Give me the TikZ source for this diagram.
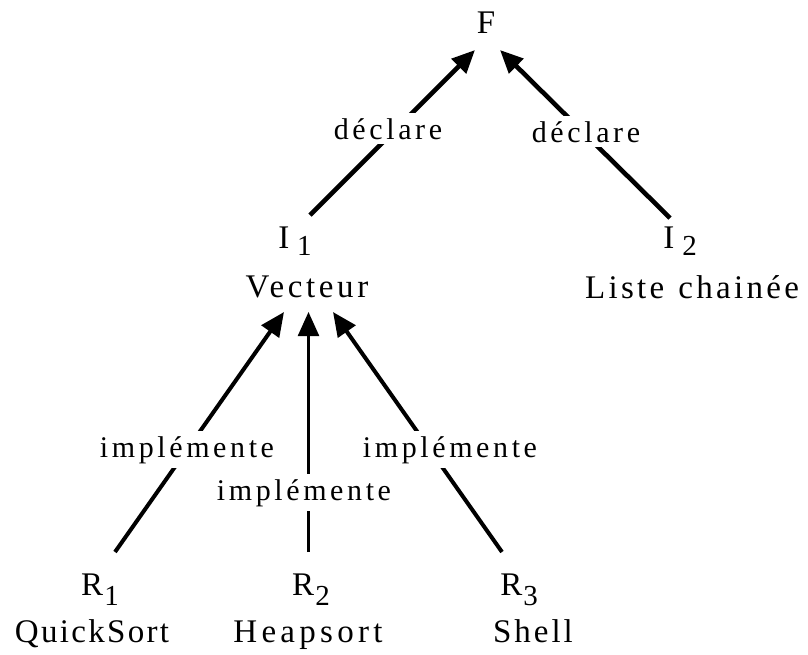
\documentclass[tikz,border=0pt]{standalone}
\usepackage{fontspec}
\setmainfont{Liberation Serif}
\usetikzlibrary{arrows.meta}

% text sizes
\newcommand\bigtext{\fontsize{33}{36}\selectfont}
\newcommand\lbltext{\fontsize{30}{33}\selectfont\addfontfeature{LetterSpace=12}}
% letter with a lowered index: #1 letter, #2 index, #3 drop, #4 gap
\newcommand\withsub[4]{#1\hspace*{#4}\raisebox{#3}{\fontsize{29}{30}\selectfont #2}}

\begin{document}
\begin{tikzpicture}[x=1pt,y=-1pt,
  txt/.style={anchor=base,inner sep=0pt,font=\bigtext},
  lbl/.style={anchor=base,fill=white,inner xsep=2pt,inner ysep=5pt,font=\lbltext},
  arrtop/.style={-{Triangle[length=23pt,width=20pt]},line width=4.6pt},
  arrside/.style={-{Triangle[length=24pt,width=21pt]},line width=4pt},
  arrmid/.style={-{Triangle[length=24pt,width=21pt]},line width=2.4pt}]
\useasboundingbox (0,0) rectangle (808,654);

% nodes
\node[txt] (f) at (486,33) {F};
\node[txt] (i1) at (295,248) {\withsub{I}{1}{-7pt}{8pt}};
\node[txt,font=\bigtext\addfontfeature{LetterSpace=11}] (vec) at (307,297) {Vecteur};
\node[txt] (i2) at (680,248) {\withsub{I}{2}{-7pt}{8pt}};
\node[txt,font=\bigtext\addfontfeature{LetterSpace=10}] (lc) at (692,298) {Liste\hspace{14pt}chainée};
\node[txt] (r1) at (100,595) {\withsub{R}{1}{-10pt}{1pt}};
\node[txt,font=\bigtext\addfontfeature{LetterSpace=7}] (qs) at (92,642) {QuickSort};
\node[txt] (r2) at (311,595) {\withsub{R}{2}{-10pt}{1pt}};
\node[txt,font=\bigtext\addfontfeature{LetterSpace=13}] (hs) at (308,642) {Heapsort};
\node[txt] (r3) at (519,595) {\withsub{R}{3}{-10pt}{1pt}};
\node[txt,font=\bigtext\addfontfeature{LetterSpace=9}] (sh) at (533,642) {Shell};

% connectors
\draw[arrtop] ([xshift=15pt,yshift=33pt]i1.base) -- ([xshift=-11pt,yshift=-17pt]f.base);
\draw[arrtop] ([xshift=-10pt,yshift=30pt]i2.base) -- ([xshift=14pt,yshift=-17pt]f.base);
\draw[arrside] ([xshift=15pt,yshift=43pt]r1.base) -- ([xshift=-23pt,yshift=-15pt]vec.base);
\draw[arrmid] ([xshift=-2.5pt,yshift=43pt]r2.base) -- ([xshift=1.5pt,yshift=-15pt]vec.base);
\draw[arrside] ([xshift=-17pt,yshift=43pt]r3.base) -- ([xshift=26pt,yshift=-15pt]vec.base);

% connector labels
\node[lbl] (d1) at (388,139) {déclare};
\node[lbl] (d2) at (586,142) {déclare};
\node[lbl] (m1) at (187,457) {implémente};
\node[lbl] (m2) at (304,500) {implémente};
\node[lbl] (m3) at (450,457) {implémente};
\end{tikzpicture}
\end{document}
